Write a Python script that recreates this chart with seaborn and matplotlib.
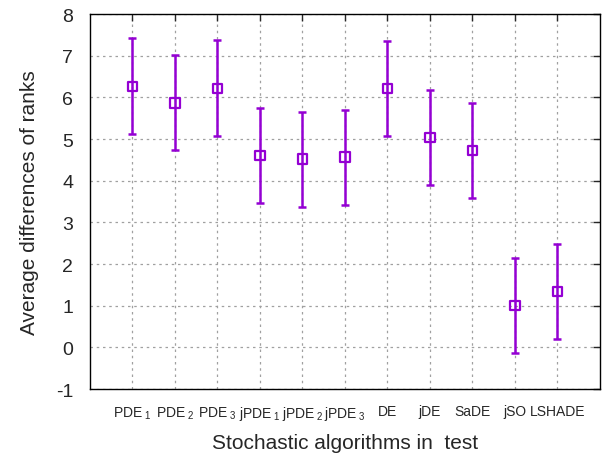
import pandas as pd
import matplotlib.pyplot as plt
import seaborn as sns

algorithms = ['PDE$_{\\ 1}$', 'PDE$_{\\ 2}$', 'PDE$_{\\ 3}$', 'jPDE$_{\\ 1}$', 'jPDE$_{\\ 2}$',
              'jPDE$_{\\ 3}$', 'DE', 'jDE', 'SaDE', 'jSO', 'LSHADE']
avg_rank_diff = [6.27, 5.87, 6.22, 4.61, 4.52, 4.57, 6.21, 5.04, 4.73, 1.01, 1.34]
half_width = [1.15, 1.14, 1.15, 1.14, 1.14, 1.14, 1.14, 1.14, 1.14, 1.14, 1.14]

df = pd.DataFrame(dict(pos=range(1, len(algorithms) + 1), alg=algorithms,
                       value=avg_rank_diff, err=half_width))

sns.set_style('white')
plt.rcParams['font.family'] = ['Liberation Sans', 'DejaVu Sans']
plt.rcParams['mathtext.fontset'] = 'custom'
plt.rcParams['mathtext.rm'] = 'Liberation Sans'
plt.rcParams['mathtext.it'] = 'Liberation Sans'
plt.rcParams['axes.unicode_minus'] = False

purple = '#9400d3'
fig, ax = plt.subplots(figsize=(6.03, 4.6), dpi=100)
fig.subplots_adjust(left=0.149, right=0.995, top=0.967, bottom=0.152)

ax.errorbar(df['pos'], df['value'], yerr=df['err'], fmt='none', ecolor=purple,
            elinewidth=1.8, capsize=3, capthick=1.8, zorder=3)
sns.scatterplot(x='pos', y='value', data=df, ax=ax, marker='s', s=45,
                facecolor='none', edgecolor=purple, linewidth=1.6, zorder=4)

ax.set_xlim(0, 12)
ax.set_ylim(-1, 8)
ax.set_xticks(df['pos'])
ax.set_xticklabels(df['alg'], fontsize=10)
ax.set_yticks(range(-1, 9))
ax.tick_params(axis='y', labelsize=14)
ax.tick_params(direction='in', top=True, right=True, length=5, width=1, pad=12)
ax.tick_params(axis='x', pad=11)
ax.grid(True, linestyle=(0, (2, 3)), color='#a0a0a0', linewidth=0.9)
for s in ax.spines.values():
    s.set_color('black')
    s.set_linewidth(1)

ax.set_xlabel('Stochastic algorithms in  test', fontsize=15, labelpad=8)
ax.set_ylabel('Average differences of ranks', fontsize=15, labelpad=12)

plt.savefig('out.png', dpi=100)
